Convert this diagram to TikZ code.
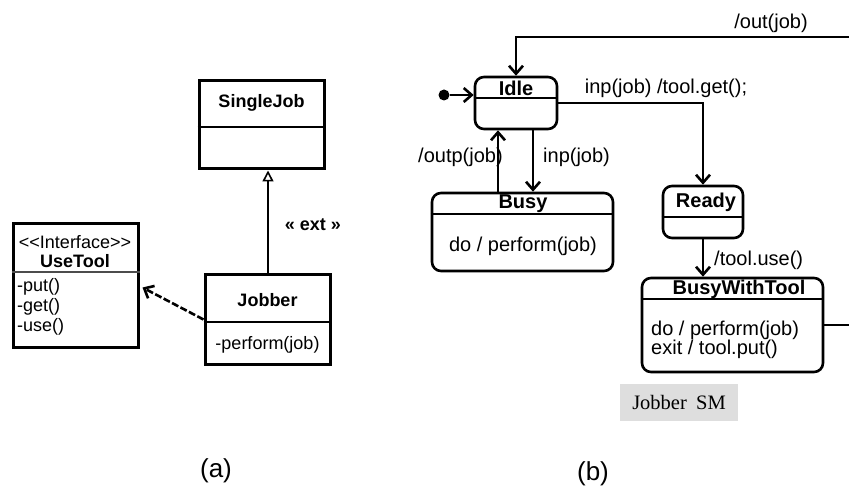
\documentclass[tikz,border=0pt]{standalone}
\usepackage{fontspec}
\setmainfont{Liberation Sans}
\newfontfamily\serifsm{Liberation Serif}
\usetikzlibrary{arrows.meta,calc}
\begin{document}
\begin{tikzpicture}[x=1pt,y=-1pt,
  classbox/.style={draw, line width=3pt, inner sep=0pt},
  statebox/.style={draw, line width=2.6pt, rounded corners=9pt, inner sep=0pt},
  divider/.style={line width=2pt},
  cfont/.style={font=\fontsize{18}{20}\selectfont, inner sep=0pt},
  cbold/.style={font=\fontsize{18}{20}\selectfont\bfseries, inner sep=0pt},
  sfont/.style={font=\fontsize{20}{22}\selectfont, inner sep=0pt},
  sbold/.style={font=\fontsize{20}{22}\selectfont\bfseries, inner sep=0pt},
  trans/.style={line width=2.6pt, -{Straight Barb[length=8pt,width=14pt,line width=2.6pt]}},
  inherit/.style={line width=1.6pt, -{Triangle[open,length=11pt,width=11pt,line width=1.6pt]}},
  depend/.style={line width=2.6pt, dash pattern=on 7pt off 2.5pt, -{Straight Barb[length=8pt,width=14pt,line width=2.6pt]}},
]
\useasboundingbox (0,0) rectangle (849,489);

% ---------- (a) class diagram ----------
\node[classbox, minimum width=125pt, minimum height=88pt] (single) at (261.5,125) {};
\draw[divider, line width=2.6pt] (single.west |- 0,127) -- (single.east |- 0,127);
\node[cbold] (singleT) at (261.5,103) {SingleJob};

\node[classbox, minimum width=125pt, minimum height=89pt] (jobber) at (267.5,319.5) {};
\draw[divider] (jobber.west |- 0,322) -- (jobber.east |- 0,322);
\node[cbold] (jobberT) at (267.5,300) {Jobber};
\node[cfont] (jobberM) at (267.5,345) {-perform(job)};

\node[classbox, minimum width=125pt, minimum height=123pt] (usetool) at (75.5,285.5) {};
\draw[line width=1.2pt, black!70] (usetool.west |- 0,272) -- (usetool.east |- 0,272);
\node[cfont] (ifaceT) at (75,242) {<\kern0pt<Interface>\kern0pt>};
\node[cbold] (usetoolT) at (75,261) {UseTool};
\node[cfont, anchor=west] (putM) at (17,287) {-put()};
\node[cfont, anchor=west] (getM) at (17,307) {-get()};
\node[cfont, anchor=west] (useM) at (17,327) {-use()};

\draw[inherit] (jobber.north -| 268,0) -- (single.south -| 268,0);
\node[font=\fontsize{18}{20}\selectfont\bfseries, inner sep=0pt] (extL) at (313,225) {« ext »};
\draw[depend] (jobber.west) -- ($(usetool.east)+(3,2)$);

\node[font=\fontsize{26}{28}\selectfont, inner sep=0pt] (capA) at (216,471) {(a)};

% ---------- (b) state machine ----------
\node[statebox, minimum width=82pt, minimum height=52pt] (idle) at (516,103) {};
\draw[divider] (idle.west |- 0,98) -- (idle.east |- 0,98);
\node[sbold] (idleT) at (516,88) {Idle};

\node[statebox, minimum width=181pt, minimum height=78pt] (busy) at (522.5,232) {};
\draw[divider] (busy.west |- 0,214) -- (busy.east |- 0,214);
\node[sbold] (busyT) at (523,204) {Busy};
\node[sfont] (busyB) at (523,246) {do / perform(job)};

\node[statebox, minimum width=80pt, minimum height=52pt] (ready) at (703,212) {};
\draw[divider] (ready.west |- 0,217) -- (ready.east |- 0,217);
\node[sbold] (readyT) at (706,202) {Ready};

\node[statebox, minimum width=181pt, minimum height=94pt] (bwt) at (732.5,325) {};
\draw[divider] (bwt.west |- 0,299) -- (bwt.east |- 0,299);
\node[sbold] (bwtT) at (739,289) {BusyWithTool};
\node[sfont, anchor=west] (bwtB1) at (651,330) {do / perform(job)};
\node[sfont, anchor=west] (bwtB2) at (651,349) {exit / tool.put()};

\node[circle, fill, inner sep=0pt, minimum size=11pt] (init) at (444,95) {};
\draw[trans] (init) -- (init -| idle.west);

\coordinate (outc) at (880,37);
\draw[trans] (bwt.east) -| (outc) -| (idle.north);
\node[sfont] (outL) at (771,23) {/out(job)};

\draw[trans] (idle.east) -| (ready.north);
\node[sfont] (getL) at (666,88) {inp(job) /tool.get();};

\draw[trans] (ready.south) -- (ready.south |- bwt.north);
\node[sfont, anchor=west] (useL) at (714,260) {/tool.use()};

\draw[trans] ([xshift=17pt]idle.south) -- ([xshift=17pt]idle.south |- busy.north);
\node[sfont, anchor=west] (inpL) at (543,157) {inp(job)};
\draw[trans] ([xshift=-18pt]idle.south |- busy.north) -- ([xshift=-18pt]idle.south);
\node[sfont, anchor=west] (outpL) at (418,157) {/outp(job)};

\node[fill=black!13, minimum width=118pt, minimum height=37pt, inner sep=0pt,
      font=\serifsm\fontsize{20.5}{22}\selectfont] (sm) at (679,402.5) {Jobber\hspace{0.45em}SM};

\node[font=\fontsize{26}{28}\selectfont, inner sep=0pt] (capB) at (593,474) {(b)};
\end{tikzpicture}
\end{document}
